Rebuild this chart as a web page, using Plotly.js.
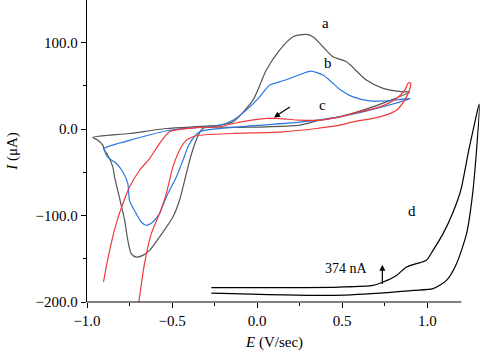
<!DOCTYPE html>
<html>
<head>
<meta charset="utf-8">
<script src="https://cdn.plot.ly/plotly-3.0.1.min.js"></script>
<style>html,body{margin:0;padding:0;background:#fff;}#chart{width:480px;height:352px;}</style>
</head>
<body>
<div id="chart"></div>
<script>
// Curve a (gray): forward then reverse scan
const aE = [-0.966,-0.75,-0.534,-0.221,-0.142,-0.025,0.054,0.132,0.211,0.289,0.328,0.387,0.446,0.525,0.642,0.74,0.858,0.897,
  0.76,0.622,0.485,0.368,0.25,0.054,-0.142,-0.321,-0.379,-0.416,-0.456,-0.495,-0.574,-0.632,-0.672,-0.711,-0.74,-0.76,-0.779,-0.806,-0.838,-0.848,-0.878,-0.897,-0.907,-0.936,-0.966];
const aI = [-9.6,-5,0.8,4.6,8.5,33.6,68.4,91.5,107,109.7,107,95.4,83.8,78,56.8,47.2,43.2,43.2,
  31.6,22,14.3,10.4,4.6,2.7,2,0.6,-24.3,-51.3,-82.3,-101.6,-124.8,-140.2,-146,-148,-144,-128.6,-105,-82,-55.3,-43.7,-30.1,-24.3,-18.5,-12.7,-9.6];

// Curve b (blue)
const bE = [-0.903,-0.711,-0.515,-0.221,-0.142,-0.064,0.015,0.074,0.132,0.191,0.269,0.315,0.387,0.446,0.485,0.564,0.662,0.76,0.901,
  0.662,0.485,0.25,-0.103,-0.338,-0.397,-0.436,-0.475,-0.534,-0.574,-0.613,-0.652,-0.681,-0.711,-0.75,-0.76,-0.789,-0.828,-0.868,-0.887,-0.897,-0.903];
const bI = [-22.4,-10.8,-1.2,4.6,10.4,22,37.4,51,54.8,58.7,64.5,67.2,62.6,53,46.3,37.4,32.8,32.8,35.6,
  22,14.3,8.1,2.7,-3.1,-16.6,-35.9,-55.3,-78.4,-97.7,-107.4,-111.2,-107.4,-97.7,-82.3,-62.9,-49.5,-39.7,-34,-30.1,-24.3,-22.4];

// Curve c (red)
const cE = [-0.903,-0.887,-0.858,-0.828,-0.789,-0.75,-0.691,-0.632,-0.574,-0.515,-0.456,-0.338,-0.221,-0.142,0.054,0.113,0.25,0.368,0.485,0.564,0.721,0.819,0.868,0.887,0.901,
  0.901,0.878,0.819,0.721,0.564,0.485,0.348,0.152,-0.142,-0.338,-0.385,-0.416,-0.456,-0.495,-0.534,-0.574,-0.622,-0.662,-0.695];
const cI = [-177,-159.6,-132.4,-109.3,-86.1,-66.9,-47.5,-34,-16.6,-3.1,-0.3,2,2.7,6.6,12.4,12.4,10.4,10.4,14.3,18.2,25.8,35.6,45.2,53,53.6,
  49,37.4,22,14.3,8.5,4.6,0.8,-3.1,-5,-7,-9.3,-12.7,-24.3,-43.7,-74.5,-97.7,-120.9,-155.6,-200];

// Curve d (black)
const dE = [-0.269,0.485,0.681,0.74,0.819,0.878,0.936,0.995,1.034,1.093,1.152,1.197,1.244,1.285,1.305,
  1.285,1.262,1.231,1.172,1.113,1.034,0.916,0.721,0.426,-0.269];
const dI = [-183.4,-182.7,-180.8,-176.9,-169.2,-159.6,-155.6,-151.8,-140.2,-120.9,-95.8,-70.7,-24.3,12.7,29,
  -35.9,-82.3,-120.9,-155.6,-175,-184.6,-186.6,-189.7,-192.4,-189.7];

const xTicks = [-1.0,-0.5,0.0,0.5,1.0];
const xTickText = ["−1.0","−0.5","0.0","0.5","1.0"];
const yTicks = [-200,-100,0,100];
const yTickText = ["−200.0","−100.0","0.0","100.0"];

const FONT = "Liberation Serif";
const mk = (x,y,color) => ({x:x,y:y,type:'scatter',mode:'lines',line:{color:color,width:1.2,shape:'spline',smoothing:0.7},hoverinfo:'skip',showlegend:false});

const data = [
  mk(aE,aI,'#555555'),
  mk(bE,bI,'#2878e0'),
  mk(cE,cI,'#f03a3a'),
  mk(dE,dI,'#000000')
];

const layout = {
  width:480,height:352,
  margin:{l:87,r:0,t:0,b:50},
  paper_bgcolor:'#fff',plot_bgcolor:'#fff',
  font:{family:FONT,size:15,color:'#000'},
  xaxis:{range:[-1,1.31],showgrid:false,zeroline:false,showline:false,
    tickmode:'array',tickvals:xTicks,ticktext:xTickText,ticks:'outside',ticklen:5,tickwidth:1,tickcolor:'#000',
    minor:{tickmode:'array',tickvals:[-0.75,-0.25,0.25,0.75],ticks:'outside',ticklen:3,tickwidth:1,tickcolor:'#000',showgrid:false},
    tickfont:{family:FONT,size:15,color:'#000'}},
  yaxis:{range:[-200,149.5],showgrid:false,zeroline:false,showline:true,linecolor:'#000',linewidth:1.2,
    tickmode:'array',tickvals:yTicks,ticktext:yTickText,ticks:'outside',ticklen:5,tickwidth:1,tickcolor:'#000',
    minor:{tickmode:'array',tickvals:[-150,-50,50],ticks:'outside',ticklen:3,tickwidth:1,tickcolor:'#000',showgrid:false},
    tickfont:{family:FONT,size:15,color:'#000'},
    title:{text:'<i>I</i> (μA)',font:{family:FONT,size:15,color:'#000'},standoff:14}},
  shapes:[
    {type:'line',xref:'x',yref:'paper',x0:-1,x1:1.2,y0:0,y1:0,line:{color:'#000',width:1.2}}
  ],
  annotations:[
    {x:0.1,y:-0.1,xref:'x',yref:'paper',text:'<i>E</i> (V/sec)',showarrow:false,yanchor:'top',font:{family:FONT,size:15,color:'#000'}},
    {x:0.401,y:122.5,text:'a',showarrow:false,font:{family:FONT,size:15,color:'#000'}},
    {x:0.416,y:76.8,text:'b',showarrow:false,font:{family:FONT,size:15,color:'#000'}},
    {x:0.384,y:27.8,text:'c',showarrow:false,font:{family:FONT,size:15,color:'#000'}},
    {x:0.911,y:-94.7,text:'d',showarrow:false,font:{family:FONT,size:15,color:'#000'}},
    {x:0.525,y:-160.7,text:'374 nA',showarrow:false,font:{family:FONT,size:14,color:'#000'}},
    {x:0.736,y:-156.8,ax:0.736,ay:-180.8,axref:'x',ayref:'y',text:'',showarrow:true,arrowhead:2,arrowsize:1,arrowwidth:1.2,arrowcolor:'#000'},
    {x:0.099,y:13.6,ax:0.201,ay:26.7,axref:'x',ayref:'y',text:'',showarrow:true,arrowhead:2,arrowsize:1,arrowwidth:1.2,arrowcolor:'#000'}
  ]
};

Plotly.newPlot('chart',data,layout,{staticPlot:true,displayModeBar:false});
</script>
</body>
</html>
